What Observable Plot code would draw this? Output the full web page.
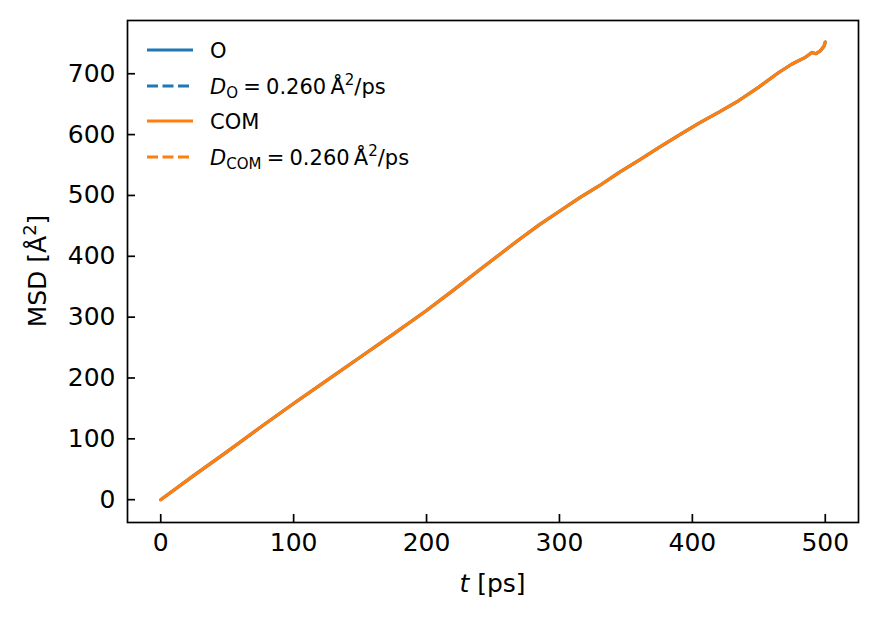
<!DOCTYPE html>
<html>
<head>
<meta charset="utf-8">
<script src="https://cdn.jsdelivr.net/npm/d3@7"></script>
<script src="https://cdn.jsdelivr.net/npm/@observablehq/plot@0.6"></script>
<style>
  html, body { margin: 0; padding: 0; background: white; }
  #chart { width: 878px; height: 620px; }
</style>
</head>
<body>
<div id="chart"></div>
<script>
// ---- data ----
const time = [0, 25, 50, 75, 100, 125, 150, 175, 200, 220, 240, 255, 270, 285, 300, 315, 330, 345, 360, 375, 390, 405, 420, 435, 450, 465, 475, 485, 490, 493, 496, 499, 500];
const msdO = [0, 40, 79, 119, 158, 196, 234, 272, 311, 344, 378, 403, 428, 452, 474, 496, 516, 538, 558, 579, 599, 619, 637, 656, 678, 702, 716, 727, 735, 733, 737, 745, 752];
const msdCOM = [0, 40, 79, 119, 158, 196, 234, 272, 311, 344, 378, 403, 428, 452, 474, 496, 516, 538, 558, 579, 599, 619, 637, 656, 678, 702, 716, 727, 735, 733, 737, 745, 752];
const xTicks = [0, 100, 200, 300, 400, 500];
const yTicks = [0, 100, 200, 300, 400, 500, 600, 700];
const seriesNames = ["O", "COM"];
const seriesColors = ["#1f77b4", "#ff7f0e"];
const diffusion = ["0.260", "0.260"];

const rowsO = time.map((t, i) => ({t, msd: msdO[i]}));
const rowsCOM = time.map((t, i) => ({t, msd: msdCOM[i]}));

const FONT = "DejaVu Sans";

function legendMark(index, scales, values, dim) {
  const g = d3.create("svg:g").attr("font-family", FONT).attr("font-size", 21)
    .attr("fill", "black").attr("text-anchor", "start");
  const x0 = dim.marginLeft + 20, x1 = x0 + 46, xt = x0 + 63;
  const rowY = [50, 86, 121, 157];
  const entries = [
    {color: seriesColors[0], dash: null, kind: "name", name: seriesNames[0]},
    {color: seriesColors[0], dash: "11,4.5", kind: "fit", sub: seriesNames[0], D: diffusion[0]},
    {color: seriesColors[1], dash: null, kind: "name", name: seriesNames[1]},
    {color: seriesColors[1], dash: "11,4.5", kind: "fit", sub: seriesNames[1], D: diffusion[1]}
  ];
  entries.forEach((e, i) => {
    const y = rowY[i];
    g.append("line").attr("x1", x0).attr("x2", x1).attr("y1", y).attr("y2", y)
      .attr("stroke", e.color).attr("stroke-width", 3.2)
      .attr("stroke-dasharray", e.dash);
    const tx = g.append("text").attr("x", xt).attr("y", y + 7.6).attr("xml:space", "preserve");
    if (e.kind === "name") {
      tx.text(e.name);
    } else {
      tx.append("tspan").attr("font-style", "italic").text("D");
      tx.append("tspan").attr("font-size", 15).attr("dy", 4.5).text(e.sub);
      tx.append("tspan").attr("dy", -4.5).text("\u2005=\u2005" + e.D + "\u2009Å");
      tx.append("tspan").attr("font-size", 15).attr("dy", -9).text("2");
      tx.append("tspan").attr("dy", 9).text("/ps");
    }
  });
  return g.node();
}

function axisLabels(index, scales, values, dim) {
  const g = d3.create("svg:g").attr("font-family", FONT).attr("font-size", 25).attr("fill", "black");
  const cx = dim.marginLeft + (dim.width - dim.marginLeft - dim.marginRight) / 2;
  const xl = g.append("text").attr("x", cx).attr("y", 592).attr("text-anchor", "middle");
  xl.append("tspan").attr("font-style", "italic").text("t");
  xl.append("tspan").text(" [ps]");
  const cy = dim.marginTop + (dim.height - dim.marginTop - dim.marginBottom) / 2;
  const yl = g.append("text").attr("transform", `translate(46,${cy}) rotate(-90)`).attr("text-anchor", "middle");
  yl.append("tspan").text("MSD [Å");
  yl.append("tspan").attr("font-size", 18).attr("dy", -10).text("2");
  yl.append("tspan").attr("dy", 10).text("]");
  return g.node();
}

const chart = Plot.plot({
  width: 878,
  height: 620,
  marginLeft: 127,
  marginRight: 20,
  marginTop: 20,
  marginBottom: 98,
  style: {fontFamily: FONT, fontSize: "25px", background: "white", color: "black", overflow: "visible"},
  x: {domain: [-25, 525]},
  y: {domain: [-37.5, 787.5]},
  marks: [
    Plot.axisX(xTicks, {tickSize: -8, text: null, label: null, strokeWidth: 1.7}),
    Plot.axisX(xTicks, {tickSize: 0, tickPadding: 11, label: null, fontSize: 25}),
    Plot.axisY(yTicks, {tickSize: -8, text: null, label: null, strokeWidth: 1.7}),
    Plot.axisY(yTicks, {tickSize: 0, tickPadding: 12, label: null, fontSize: 25}),
    Plot.line(rowsO, {x: "t", y: "msd", stroke: seriesColors[0], strokeWidth: 3.2}),
    Plot.line(rowsCOM, {x: "t", y: "msd", stroke: seriesColors[1], strokeWidth: 3.2}),
    Plot.frame({stroke: "black", strokeWidth: 1.7}),
    legendMark,
    axisLabels
  ]
});
document.getElementById("chart").appendChild(chart);
</script>
</body>
</html>
